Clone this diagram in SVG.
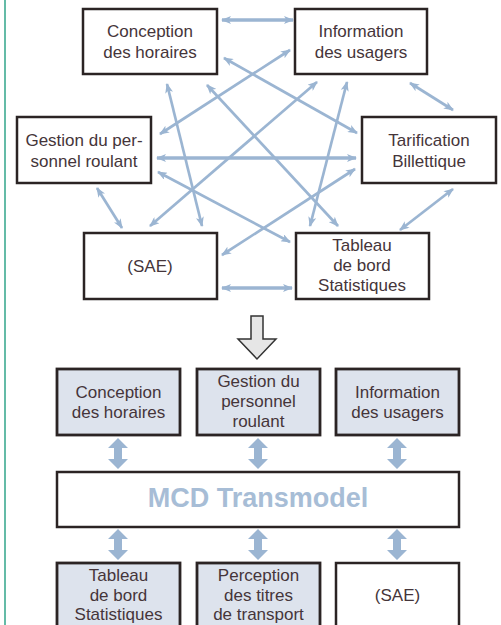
<svg xmlns="http://www.w3.org/2000/svg" width="501" height="625" viewBox="0 0 501 625">
<defs>
<style>
.box{fill:#ffffff;stroke:#2b2424;stroke-width:2.5}
.boxf{fill:#dde3ed;stroke:#2b2424;stroke-width:2.8}
.t{font-family:"Liberation Sans",Arial,sans-serif;font-size:17px;fill:#45353a;text-anchor:middle}
.c{fill:none;stroke:#9bb5d2;stroke-width:2.7;marker-start:url(#ah);marker-end:url(#ah)}
.c2{stroke-width:3.6}
.fat{fill:#9bb5d2}
</style>
<marker id="ah" viewBox="0 0 10 8" refX="9" refY="4" markerWidth="11" markerHeight="8" markerUnits="userSpaceOnUse" orient="auto-start-reverse">
<path d="M0,0 L10,4 L0,8 L2.5,4 z" fill="#9bb5d2"/>
</marker>
</defs>
<rect width="501" height="625" fill="#ffffff"/>
<line x1="5" y1="0" x2="5" y2="625" stroke="#30a58a" stroke-width="1.5"/>

<g id="connectors">
<line class="c c2" x1="222" y1="20" x2="293" y2="20"/>
<line class="c" x1="410" y1="83" x2="453" y2="110"/>
<line class="c" x1="453" y1="189" x2="400" y2="230"/>
<line class="c c2" x1="222" y1="288" x2="292" y2="288"/>
<line class="c" x1="97" y1="188" x2="122" y2="228"/>
<line class="c c2" x1="157" y1="158" x2="356" y2="158"/>
<line class="c" x1="160" y1="134" x2="290" y2="50"/>
<line class="c" x1="224" y1="58" x2="357" y2="133"/>
<line class="c" x1="167" y1="84" x2="202" y2="226"/>
<line class="c" x1="207" y1="85" x2="338" y2="226"/>
<line class="c" x1="317" y1="82" x2="150" y2="226"/>
<line class="c" x1="347" y1="82" x2="310" y2="226"/>
<line class="c" x1="158" y1="172" x2="290" y2="242"/>
<line class="c" x1="355" y1="169" x2="222" y2="255"/>
</g>

<g id="conception-top">
<rect class="box" x="83" y="9" width="134" height="65"/>
<text class="t" x="150" y="37">Conception</text>
<text class="t" x="150" y="58">des horaires</text>
</g>
<g id="information-top">
<rect class="box" x="295" y="9" width="132" height="65"/>
<text class="t" x="361" y="37">Information</text>
<text class="t" x="361" y="58">des usagers</text>
</g>
<g id="gestion-top">
<rect class="box" x="17" y="117" width="134" height="66"/>
<text class="t" x="84" y="146">Gestion du per-</text>
<text class="t" x="84" y="167">sonnel roulant</text>
</g>
<g id="tarification-top">
<rect class="box" x="362" y="117" width="134" height="66"/>
<text class="t" x="429" y="146">Tarification</text>
<text class="t" x="429" y="167">Billettique</text>
</g>
<g id="sae-top">
<rect class="box" x="84" y="233" width="133" height="66"/>
<text class="t" x="150" y="272">(SAE)</text>
</g>
<g id="tableau-top">
<rect class="box" x="296" y="233" width="133" height="66"/>
<text class="t" x="362" y="251">Tableau</text>
<text class="t" x="362" y="271">de bord</text>
<text class="t" x="362" y="291">Statistiques</text>
</g>

<g id="down-arrow">
<polygon points="251,316 263,316 263,339 276,339 257,359 238,339 251,339" fill="#e6e6e6" stroke="#333333" stroke-width="1.5"/>
</g>

<g id="fat-arrows">
<polygon class="fat" points="118,438 128,448 122,448 122,459 128,459 118,469 108,459 114,459 114,448 108,448"/>
<polygon class="fat" points="258,438 268,448 262,448 262,459 268,459 258,469 248,459 254,459 254,448 248,448"/>
<polygon class="fat" points="397,438 407,448 401,448 401,459 407,459 397,469 387,459 393,459 393,448 387,448"/>
<polygon class="fat" points="118,529 128,539 122,539 122,550 128,550 118,560 108,550 114,550 114,539 108,539"/>
<polygon class="fat" points="258,529 268,539 262,539 262,550 268,550 258,560 248,550 254,550 254,539 248,539"/>
<polygon class="fat" points="397,529 407,539 401,539 401,550 407,550 397,560 387,550 393,550 393,539 387,539"/>
</g>

<g id="conception-bottom">
<rect class="boxf" x="57" y="369" width="123" height="66"/>
<text class="t" x="118.5" y="398">Conception</text>
<text class="t" x="118.5" y="418">des horaires</text>
</g>
<g id="gestion-bottom">
<rect class="boxf" x="197" y="369" width="123" height="66"/>
<text class="t" x="258.5" y="387">Gestion du</text>
<text class="t" x="258.5" y="407">personnel</text>
<text class="t" x="258.5" y="427">roulant</text>
</g>
<g id="information-bottom">
<rect class="boxf" x="336" y="369" width="123" height="66"/>
<text class="t" x="397.5" y="398">Information</text>
<text class="t" x="397.5" y="418">des usagers</text>
</g>
<g id="mcd">
<rect class="box" x="57" y="472" width="402" height="55" stroke-width="2.8"/>
<text x="258" y="507" font-family="'Liberation Sans',Arial,sans-serif" font-size="27" font-weight="bold" fill="#a7bdd6" text-anchor="middle">MCD Transmodel</text>
</g>
<g id="tableau-bottom">
<rect class="boxf" x="57" y="563" width="123" height="70"/>
<text class="t" x="118.5" y="581">Tableau</text>
<text class="t" x="118.5" y="601">de bord</text>
<text class="t" x="118.5" y="620">Statistiques</text>
</g>
<g id="perception-bottom">
<rect class="boxf" x="197" y="563" width="123" height="70"/>
<text class="t" x="258.5" y="581">Perception</text>
<text class="t" x="258.5" y="601">des titres</text>
<text class="t" x="258.5" y="620">de transport</text>
</g>
<g id="sae-bottom">
<rect class="box" x="336" y="563" width="123" height="70" stroke-width="2.8"/>
<text class="t" x="397.5" y="601">(SAE)</text>
</g>
</svg>
